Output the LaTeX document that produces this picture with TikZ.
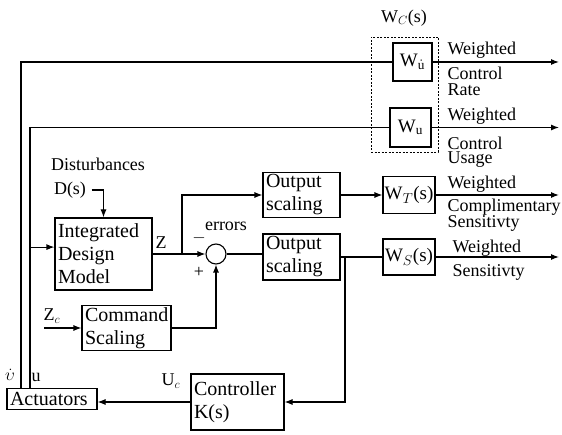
\documentclass[tikz,border=0pt]{standalone}
\usepackage{fontspec}
\setmainfont{Liberation Serif}
\usetikzlibrary{arrows.meta}

\begin{document}
\begin{tikzpicture}[x=1pt,y=-1pt,line width=1.1pt,
  block/.style={draw,inner xsep=3pt,inner ysep=2pt,align=left,font=\fontsize{20}{23}\selectfont},
  wbox/.style={draw,inner sep=1pt,font=\fontsize{19}{23}\selectfont},
  lbl/.style={inner sep=0pt,align=left,font=\fontsize{18}{16}\selectfont},
  sig/.style={-{Latex[length=8pt,width=6pt]}}]

	\useasboundingbox (0,0) rectangle (562,435);

	%Blocks
	\node[block,text width=84pt,minimum height=21pt] (act) at (52,399) {Actuators};
	\node[block,text width=87pt,minimum height=56pt] (ctrl) at (237.5,402) {Controller\\K(s)};
	\node[block,text width=91pt,minimum height=72pt] (idm) at (103.5,254) {Integrated\\Design\\Model};
	\node[block,text width=83pt,minimum height=45pt] (cmd) at (126.5,328) {Command\\Scaling};
	\node[block,text width=71pt,minimum height=45pt] (os1) at (301.5,195) {Output\\scaling};
	\node[block,text width=71pt,minimum height=46pt] (os2) at (301.5,257) {Output\\scaling};
	\node[draw,circle,minimum size=20pt,inner sep=0pt] (sum) at (216,254) {};

	%Weights
	\node[wbox,minimum width=52pt,minimum height=37pt] (wt) at (409,195) {W$_T$(s)};
	\node[wbox,minimum width=52pt,minimum height=36pt] (ws) at (409,257) {W$_S$(s)};
	\node[wbox,minimum width=39pt,minimum height=38pt] (wud) at (412.5,62) {W$_{\dot{\mathrm{u}}}$};
	\node[wbox,minimum width=41pt,minimum height=39pt] (wu) at (410.5,127.5) {W$_{\mathrm{u}}$};
	\node[draw,dash pattern=on 2pt off 1.5pt,line width=0.8pt,minimum width=67pt,minimum height=115pt] (wc) at (404.5,94.5) {};
	\node[lbl] (wclbl) at (404,18) {W$_C$(s)};

	%Inputs and labels
	\node[lbl] (distl) at (98,164) {Disturbances};
	\node[lbl] (dist) at (70,190) {D(s)};
	\node[lbl] (zlbl) at (161,243) {Z};
	\node[lbl] (errs) at (226,226) {errors};
	\node[lbl] (minus) at (199,238) {$-$};
	\node[lbl] (plus) at (199,272) {+};
	\node[lbl] (zc) at (52,316) {Z$_c$};
	\node[lbl] (uc) at (171,381) {U$_c$};
	\node[lbl] (vdotlbl) at (10,375) {$\dot{\upsilon}$};
	\node[lbl] (ulbl) at (36,377) {u};

	\coordinate (vdot) at (21,388.5);
	\coordinate (uout) at (30,388.5);
	\coordinate (zsplit) at (182,254);
	\coordinate (esplit) at (345,257);
	\coordinate (zcin) at (44,328);
	\coordinate (rateout) at (559,62);
	\coordinate (usageout) at (559,127.5);
	\coordinate (compout) at (559,195);
	\coordinate (sensout) at (559,257);

	%Actuator feedback
	\draw (vdot) |- (wud.west);
	\draw (uout) |- (wu.west);
	\draw[sig] (uout |- idm.172) -- (idm.172);
	\draw[sig] ([xshift=5pt]dist.east) -| (idm.north);

	%Error loop
	\draw[sig] (idm.east) -- (sum.west);
	\draw[sig] (zsplit) |- (os1.west);
	\draw[sig] (zcin) -- (cmd.west);
	\draw[sig] (cmd.east) -| (sum.south);
	\draw (sum.east) -- (sum.east -| os2.west);
	\draw[sig] (os1.east) -- (wt.west);
	\draw (os2.east) -- (ws.west);
	\draw[sig] (esplit) |- (ctrl.east);
	\draw[sig] (ctrl.west) -- (ctrl.west -| act.east);

	%Weighted outputs
	\draw[sig] (wud.east) -- (rateout);
	\draw[sig] (wu.east) -- (usageout);
	\draw[sig] (wt.east) -- (compout);
	\draw[sig] (ws.east) -- (sensout);
	\node[lbl,anchor=west] (ratew) at (447,50) {Weighted};
	\node[lbl,anchor=north west] (ratet) at (447,66) {Control\\Rate};
	\node[lbl,anchor=west] (usagew) at (447,116) {Weighted};
	\node[lbl,anchor=north west,font=\fontsize{18}{14}\selectfont] (usaget) at (447,136) {Control\\Usage};
	\node[lbl,anchor=west] (compw) at (447,184) {Weighted};
	\node[lbl,anchor=north west] (compt) at (447,198) {Complimentary\\Sensitivty};
	\node[lbl,anchor=west] (sensw) at (452,248) {Weighted};
	\node[lbl,anchor=north west] (senst) at (452,264) {Sensitivty};

\end{tikzpicture}
\end{document}
